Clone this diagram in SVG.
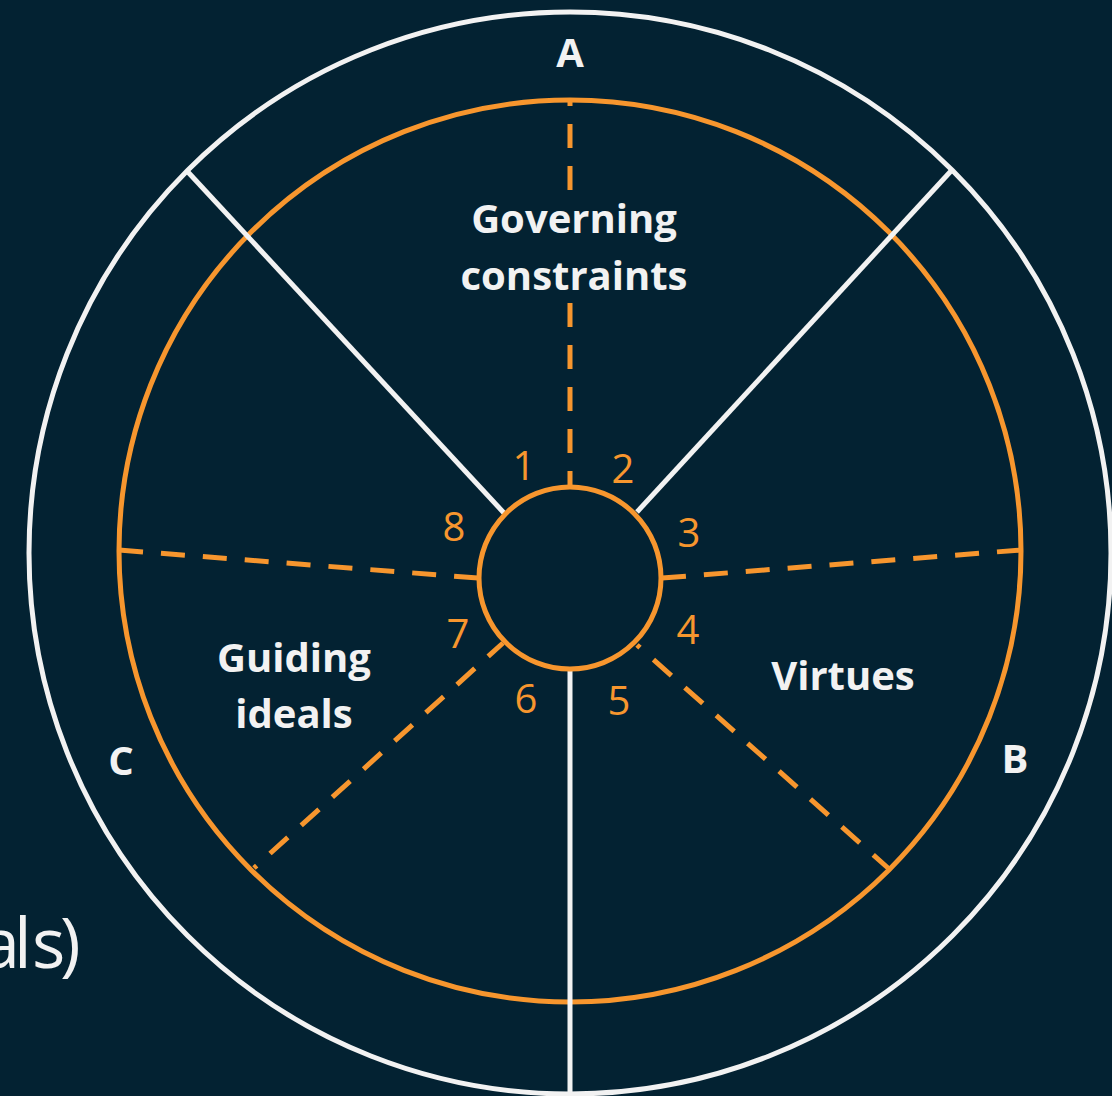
<svg xmlns="http://www.w3.org/2000/svg" width="1112" height="1096" viewBox="0 0 1112 1096">
  <style>
    .bg { fill: #032232; }
    .wring { fill: none; stroke: #f2f2f2; stroke-width: 5; }
    .oring { fill: none; stroke: #f7962e; stroke-width: 5; }
    .wline { stroke: #f2f2f2; stroke-width: 5; fill: none; }
    .oline { stroke: #f7962e; stroke-width: 5; fill: none; stroke-dasharray: 24 18; }
    .title { font-family: "Open Sans", "Liberation Sans", sans-serif; font-weight: bold; font-size: 40px; fill: #f2f2f2; text-anchor: middle; }
    .num { font-family: "Open Sans", "Liberation Sans", sans-serif; font-size: 40px; fill: #f7962e; text-anchor: middle; }
    .side { font-family: "Open Sans", "Liberation Sans", sans-serif; font-size: 70px; fill: #f2f2f2; }
  </style>
  <rect class="bg" x="0" y="0" width="1112" height="1096"/>
  <text class="side" x="-19 14 32 60" y="968">als)</text>

  <g id="outer-ring"><circle class="wring" cx="570" cy="553" r="541"/></g>
  <g id="inner-ring"><circle class="oring" cx="570" cy="551" r="451"/></g>

  <g id="connectors">
    <line class="wline" x1="187" y1="171" x2="504" y2="513"/>
    <line class="wline" x1="951" y1="171" x2="637" y2="512"/>
    <line class="wline" x1="570" y1="670" x2="570" y2="1096"/>
    <line class="oline" x1="570" y1="486" x2="570" y2="300" stroke-dashoffset="9"/>
    <line class="oline" x1="570" y1="190" x2="570" y2="100"/>
    <line class="oline" x1="478" y1="578" x2="118" y2="550" stroke-dashoffset="0"/>
    <line class="oline" x1="662" y1="578" x2="1021" y2="550"/>
    <line class="oline" x1="503" y1="643" x2="254" y2="868" stroke-dashoffset="4"/>
    <line class="oline" x1="637" y1="645" x2="888" y2="868" stroke-dashoffset="20"/>
  </g>

  <g id="hub"><circle class="oring" cx="570" cy="578" r="91" fill="#032232"/></g>

  <g id="label-A"><text class="title" x="570" y="67">A</text></g>
  <g id="label-B"><text class="title" x="1015" y="773">B</text></g>
  <g id="label-C"><text class="title" x="121" y="775">C</text></g>

  <g id="governing-constraints">
    <text class="title" x="574" y="233">Governing</text>
    <text class="title" x="574" y="290">constraints</text>
  </g>
  <g id="guiding-ideals">
    <text class="title" x="294" y="672">Guiding</text>
    <text class="title" x="294" y="728">ideals</text>
  </g>
  <g id="virtues"><text class="title" x="843" y="690">Virtues</text></g>

  <g id="numbers">
    <text class="num" x="524" y="480">1</text>
    <text class="num" x="623" y="483">2</text>
    <text class="num" x="689" y="547">3</text>
    <text class="num" x="688" y="644">4</text>
    <text class="num" x="619" y="715">5</text>
    <text class="num" x="526" y="713">6</text>
    <text class="num" x="458" y="648">7</text>
    <text class="num" x="454" y="541">8</text>
  </g>
</svg>
